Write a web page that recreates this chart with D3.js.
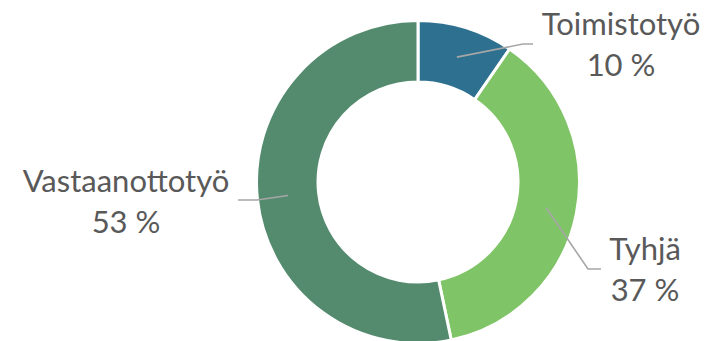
<!DOCTYPE html>
<html><head><meta charset="utf-8">
<script src="https://cdn.jsdelivr.net/npm/d3@7"></script>
<style>html,body{margin:0;padding:0;background:#fff;}svg{display:block;}</style>
</head><body>
<svg id="c" width="705" height="341"></svg>
<script>
const categories = ["Toimistotyö", "Tyhjä", "Vastaanottotyö"];
const values = [9.6, 37.1, 53.3];
const valueLabels = ["10 %", "37 %", "53 %"];
const colors = ["#2E7090", "#80C468", "#548B6E"];

// label layout (text anchor positions and leader elbows), not data
const labelLayout = [
  {tx: 621, ty: 35, elbow: [523, 44], end: [533, 44]},
  {tx: 645, ty: 260, elbow: [588, 269], end: [601, 269]},
  {tx: 126, ty: 192, elbow: [257, 200], end: [238, 200]}
];

const svg = d3.select("#c");
const cx = 418, cy = 182, rOuter = 161.5, rInner = 100;
const g = svg.append("g").attr("transform", `translate(${cx},${cy})`);

const pie = d3.pie().sort(null).value(d => d).startAngle(0).endAngle(2 * Math.PI);
const arcs = pie(values);
const arc = d3.arc().innerRadius(rInner).outerRadius(rOuter);
const mid = d3.arc().innerRadius((rInner + rOuter) / 2).outerRadius((rInner + rOuter) / 2);

g.selectAll("path.slice").data(arcs).join("path")
  .attr("class", "slice")
  .attr("d", arc)
  .attr("fill", (d, i) => colors[i])
  .attr("stroke", "#fff").attr("stroke-width", 3).attr("stroke-linejoin", "round");

arcs.forEach((d, i) => {
  const c = mid.centroid(d);
  const L = labelLayout[i];
  const pts = [[cx + c[0], cy + c[1]], L.elbow, L.end];
  svg.append("path")
    .attr("d", d3.line()(pts))
    .attr("fill", "none").attr("stroke", "#A6A6A6").attr("stroke-width", 1.6);
  const t = svg.append("text")
    .attr("x", L.tx).attr("y", L.ty)
    .attr("text-anchor", "middle")
    .attr("font-family", "Lato, 'Open Sans', sans-serif")
    .attr("font-size", 31)
    .attr("fill", "#595959");
  t.append("tspan").attr("x", L.tx).attr("y", L.ty).text(categories[i]);
  t.append("tspan").attr("x", L.tx).attr("y", L.ty + 41).text(valueLabels[i]);
});
</script>
</body></html>
